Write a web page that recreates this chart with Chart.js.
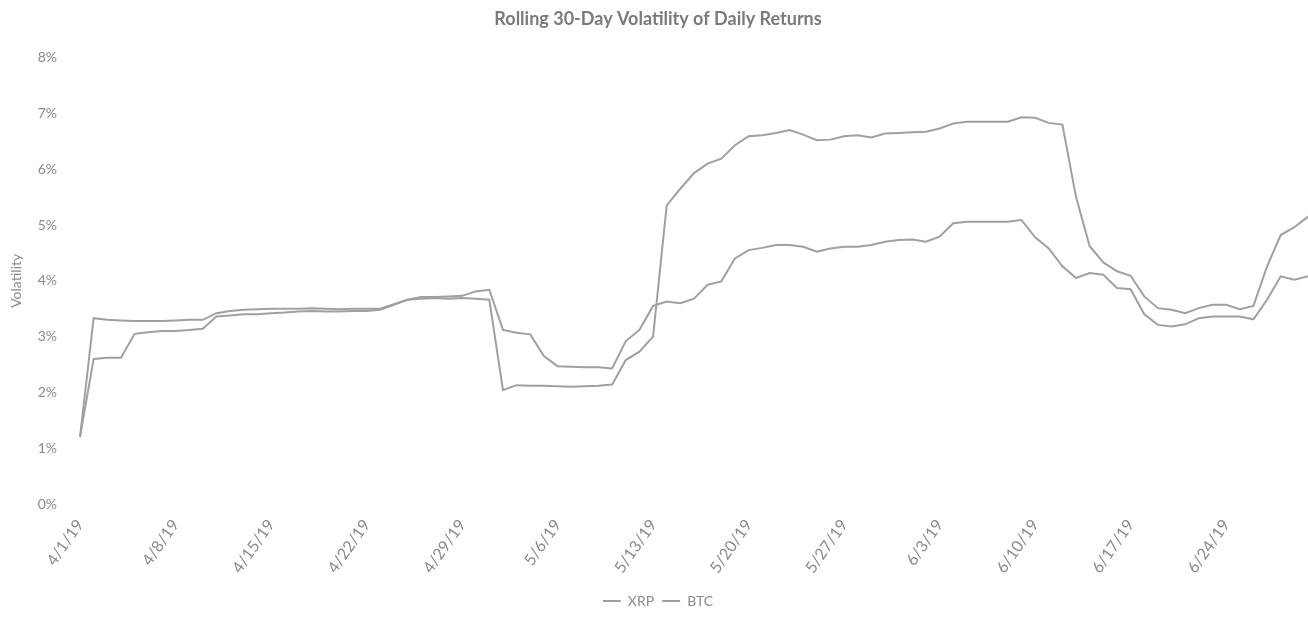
<!DOCTYPE html>
<html>
<head>
<meta charset="utf-8">
<script src="https://cdn.jsdelivr.net/npm/chart.js@4.4.1/dist/chart.umd.min.js"></script>
<style>
  html, body { margin: 0; padding: 0; background: #fff; }
</style>
</head>
<body>
<canvas id="myChart" width="1308" height="618"></canvas>
<script>
  // daily labels 4/1/19 .. 6/30/19, a tick shown every 7th day
  var days = [];
  for (var i = 0; i < 91; i++) {
    var dt = new Date(2019, 3, 1 + i);
    days.push((dt.getMonth() + 1) + '/' + dt.getDate() + '/19');
  }
  var tickEvery = 7;

  // rolling 30-day volatility, in %
  var xrp = [1.20, 2.60, 2.62, 2.62, 3.05, 3.08, 3.10, 3.10, 3.12, 3.14,
             3.36, 3.38, 3.40, 3.40, 3.42, 3.43, 3.45, 3.46, 3.45, 3.45,
             3.46, 3.46, 3.48, 3.57, 3.66, 3.71, 3.71, 3.72, 3.73, 3.81,
             3.84, 3.12, 3.07, 3.04, 2.65, 2.47, 2.46, 2.45, 2.45, 2.43,
             2.92, 3.12, 3.55, 3.63, 3.60, 3.68, 3.93, 3.99, 4.40, 4.55,
             4.59, 4.64, 4.64, 4.61, 4.52, 4.58, 4.61, 4.61, 4.64, 4.70,
             4.73, 4.74, 4.70, 4.79, 5.03, 5.06, 5.06, 5.06, 5.06, 5.09,
             4.78, 4.58, 4.26, 4.05, 4.14, 4.11, 3.87, 3.85, 3.40, 3.21,
             3.18, 3.22, 3.33, 3.36, 3.36, 3.36, 3.31, 3.66, 4.08, 4.02,
             4.08];

  var btc = [1.20, 3.33, 3.30, 3.29, 3.28, 3.28, 3.28, 3.29, 3.30, 3.30,
             3.42, 3.46, 3.48, 3.49, 3.50, 3.50, 3.50, 3.51, 3.50, 3.49,
             3.50, 3.50, 3.50, 3.58, 3.66, 3.68, 3.69, 3.68, 3.69, 3.68,
             3.66, 2.04, 2.13, 2.12, 2.12, 2.11, 2.10, 2.11, 2.12, 2.14,
             2.58, 2.73, 3.00, 5.35, 5.65, 5.93, 6.10, 6.19, 6.43, 6.59,
             6.61, 6.65, 6.70, 6.62, 6.52, 6.53, 6.59, 6.61, 6.57, 6.64,
             6.65, 6.66, 6.67, 6.73, 6.82, 6.85, 6.85, 6.85, 6.85, 6.93,
             6.92, 6.83, 6.80, 5.50, 4.62, 4.33, 4.17, 4.09, 3.72, 3.51,
             3.48, 3.42, 3.51, 3.57, 3.57, 3.49, 3.55, 4.26, 4.82, 4.96,
             5.15];

  var lineGray = '#a0a0a0';
  var textGray = '#8a8a8a';

  Chart.defaults.font.family = 'Lato, "Open Sans", sans-serif';
  Chart.defaults.color = textGray;

  const data = {
    labels: days,
    datasets: [{
      label: 'XRP',
      data: xrp,
      borderColor: lineGray,
      backgroundColor: lineGray,
      borderWidth: 2,
      pointRadius: 0,
      tension: 0
    }, {
      label: 'BTC',
      data: btc,
      borderColor: lineGray,
      backgroundColor: lineGray,
      borderWidth: 2,
      pointRadius: 0,
      tension: 0
    }]
  };

  const config = {
    type: 'line',
    data: data,
    options: {
      responsive: false,
      animation: false,
      layout: { padding: { left: 8, right: 0, top: 0, bottom: 0 } },
      scales: {
        x: {
          offset: false,
          grid: { display: false, drawTicks: false },
          border: { display: false },
          ticks: {
            autoSkip: false,
            maxRotation: 55,
            minRotation: 55,
            padding: 12,
            font: { size: 16 },
            callback: function(val, idx) {
              return idx % tickEvery === 0 ? days[idx] : '';
            }
          },
          afterFit: function(scale) {
            scale.height = 82;
            scale.paddingRight = 0;
          }
        },
        y: {
          min: 0,
          max: 8,
          grid: { display: false, drawTicks: false },
          border: { display: false },
          ticks: {
            stepSize: 1,
            padding: 23,
            font: { size: 14 },
            callback: function(v) { return v + '%'; }
          },
          title: {
            display: true,
            text: 'Volatility',
            font: { size: 14 },
            padding: 0
          },
          afterFit: function(scale) { scale.width = 72; }
        }
      },
      plugins: {
        title: {
          display: true,
          text: 'Rolling 30-Day Volatility of Daily Returns',
          color: '#7a7a7a',
          font: { size: 18, weight: 'bold' },
          padding: { top: 8, bottom: 28 }
        },
        legend: {
          position: 'bottom',
          labels: {
            usePointStyle: true,
            pointStyle: 'line',
            pointStyleWidth: 18,
            boxHeight: 8,
            padding: 8,
            font: { size: 14 }
          }
        },
        tooltip: { enabled: false }
      }
    }
  };

  const myChart = new Chart(document.getElementById('myChart'), config);
</script>
</body>
</html>
